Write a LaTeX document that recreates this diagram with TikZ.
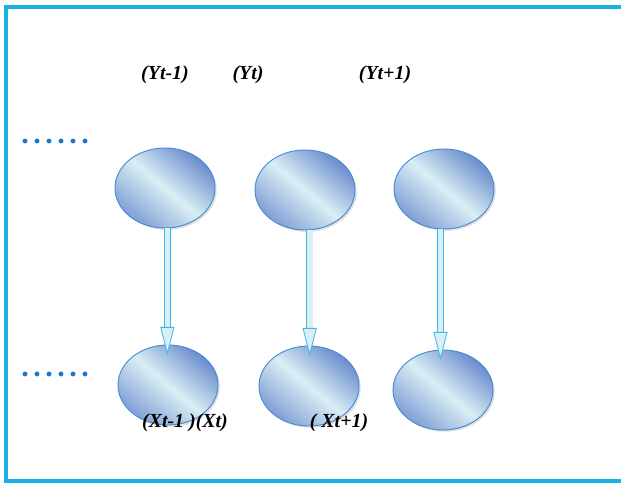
\documentclass[tikz,border=0pt]{standalone}
\usepackage{fontspec}
\setmainfont{Liberation Serif}
\usetikzlibrary{arrows.meta,shadows,shapes.geometric}
\definecolor{framecol}{RGB}{26,176,232}
\definecolor{rimcol}{RGB}{70,140,210}
\definecolor{darkfill}{RGB}{105,140,205}
\definecolor{lightfill}{RGB}{218,238,244}
\definecolor{dotcol}{RGB}{30,120,200}
\definecolor{shaftcol}{RGB}{60,185,235}
\begin{document}
\begin{tikzpicture}[x=0.03cm, y=-0.03cm,
  state/.style={ellipse, draw=rimcol, line width=0.8pt, minimum width=3cm, minimum height=2.4cm,
    top color=darkfill, bottom color=darkfill!80!lightfill, middle color=lightfill, shading angle=-40,
    drop shadow={shadow xshift=1.5pt, shadow yshift=-1.5pt, opacity=0.25}},
  label/.style={font=\fontsize{17}{19}\selectfont\bfseries\itshape, inner sep=0pt},
  flow/.style={draw=shaftcol, line width=0.7pt, double=lightfill, double distance=4.8pt,
    -{Triangle[length=24pt, width=12pt, open, fill=lightfill]}}
]
\useasboundingbox (0,0) rectangle (621,484);
\draw[framecol, line width=2.6pt] (700,7) -- (6,7) -- (6,481) -- (700,481);
% hidden states
\foreach \i/\x/\y in {1/165/188, 2/305/190, 3/444/189} {
  \node[state] (y\i) at (\x,\y) {};
}
% observations
\foreach \i/\x/\y in {1/168/385, 2/309/386, 3/443/390} {
  \node[state] (x\i) at (\x,\y) {};
}
\foreach \i/\dx in {1/2,2/4,3/-3} {
  \draw[flow, shorten >=-9pt] ([xshift=\dx]y\i.south) -- ([xshift=\dx]y\i.south |- x\i.north);
}
% dots on the left
\foreach \k in {0,...,5} {
  \fill[dotcol] (25+\k*12,141) circle (2.1pt);
  \fill[dotcol] (25+\k*12,374) circle (2.1pt);
}
\node[label] (ly1) at (165,75) {(Yt-1)};
\node[label] (ly2) at (248,75) {(Yt)};
\node[label] (ly3) at (385,75) {(Yt+1)};
\node[label] (lx1) at (185,423) {(Xt-1 )(Xt)};
\node[label] (lx3) at (339,423) {( Xt+1)};
\end{tikzpicture}
\end{document}
